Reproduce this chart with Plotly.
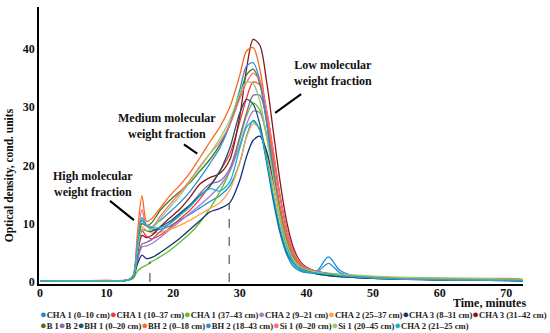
import plotly.graph_objects as go

# ---- data ----
time_min = [0, 10, 13.2, 14.0, 14.6, 15.3, 16.0, 16.8, 18, 19.5, 21, 22.5, 24, 25.5, 27, 28.5,
            30, 31, 32, 33, 34, 35, 36, 37, 38, 39, 40, 41.5, 43.3, 45, 47, 50, 55, 60, 65, 70, 72.5]

cha1_0_10 = [0.1, 0.2, 0.3, 1.0, 5.5, 10.5, 9.6, 9.0, 9.0, 9.6, 10.6, 11.6, 12.7, 13.8, 14.8, 16.5,
             20.5, 25.0, 27.7, 26.0, 20.5, 14.0, 8.5, 4.8, 2.7, 1.9, 1.6, 1.8, 4.3, 2.0, 1.1, 0.7, 0.5, 0.4, 0.35, 0.3, 0.25]
cha1_10_37 = [0.1, 0.2, 0.3, 0.9, 5.0, 8.8, 7.8, 7.4, 8.0, 9.3, 10.8, 12.3, 14.2, 16.5, 19.0, 22.0,
              27.5, 31.5, 34.3, 33.8, 29.5, 22.5, 15.0, 9.2, 5.4, 3.4, 2.4, 1.7, 1.3, 1.1, 0.9, 0.7, 0.5, 0.4, 0.35, 0.3, 0.25]
cha1_37_43 = [0.1, 0.2, 0.3, 0.6, 1.8, 2.5, 2.9, 3.5, 4.3, 5.4, 6.8, 8.3, 10.2, 12.6, 15.5, 19.0,
              24.5, 28.5, 30.7, 29.5, 25.0, 19.0, 12.8, 7.8, 4.7, 3.1, 2.4, 1.8, 1.5, 1.3, 1.1, 0.9, 0.6, 0.45, 0.4, 0.35, 0.3]
cha2_9_21 = [0.1, 0.2, 0.3, 0.8, 3.5, 6.0, 6.2, 6.6, 7.6, 9.0, 10.4, 11.8, 13.2, 14.7, 16.5, 19.0,
             23.5, 27.0, 29.3, 29.0, 25.5, 19.5, 13.2, 8.0, 4.8, 3.1, 2.3, 1.7, 1.3, 1.1, 0.9, 0.7, 0.5, 0.4, 0.35, 0.3, 0.25]
cha2_25_37 = [0.1, 0.25, 0.35, 1.0, 5.5, 9.5, 8.8, 8.4, 8.5, 9.0, 9.7, 10.6, 11.6, 12.6, 13.6, 15.8,
              20.5, 24.8, 27.1, 26.3, 22.0, 16.2, 10.5, 6.2, 3.7, 2.5, 2.0, 1.6, 1.3, 1.1, 1.0, 0.8, 0.6, 0.55, 0.5, 0.5, 0.4]
cha3_8_31 = [0.1, 0.2, 0.3, 0.8, 3.0, 4.6, 4.0, 4.2, 5.0, 6.2, 7.5, 9.0, 10.5, 12.0, 12.6, 13.6,
             17.5, 21.5, 24.3, 25.0, 22.5, 17.5, 12.0, 7.0, 4.2, 2.7, 2.0, 1.4, 1.1, 0.9, 0.8, 0.6, 0.45, 0.35, 0.3, 0.25, 0.2]
cha3_31_42 = [0.1, 0.2, 0.3, 0.9, 4.5, 8.0, 7.6, 8.0, 9.4, 11.0, 12.5, 14.5, 16.8, 17.9, 18.6, 21.0,
              28.5, 36.5, 41.6, 40.6, 34.5, 26.0, 17.5, 10.5, 6.0, 3.6, 2.5, 1.8, 1.4, 1.2, 1.0, 0.8, 0.55, 0.45, 0.4, 0.35, 0.3]
b1 = [0.1, 0.2, 0.3, 1.0, 5.8, 10.0, 9.6, 10.2, 12.2, 14.0, 15.5, 17.0, 19.0, 21.0, 23.5, 27.0,
      32.0, 35.5, 36.5, 34.0, 27.5, 19.5, 12.5, 7.4, 4.4, 2.9, 2.2, 1.7, 1.3, 1.1, 0.9, 0.7, 0.5, 0.4, 0.35, 0.3, 0.25]
b2 = [0.1, 0.2, 0.3, 0.8, 3.8, 6.5, 6.8, 7.3, 8.6, 10.1, 11.6, 13.1, 15.2, 16.8, 17.3, 19.5,
      25.0, 29.0, 32.0, 32.0, 28.0, 21.5, 14.8, 9.0, 5.3, 3.4, 2.4, 1.8, 1.4, 1.2, 1.0, 0.8, 0.55, 0.45, 0.4, 0.35, 0.3]
bh1_0_20 = [0.1, 0.2, 0.3, 1.0, 5.0, 9.0, 8.8, 8.7, 9.4, 10.4, 11.8, 13.2, 14.8, 16.4, 19.0, 23.0,
            29.0, 31.3, 30.5, 27.0, 21.0, 14.5, 9.0, 5.2, 3.2, 2.2, 1.8, 1.4, 1.1, 0.9, 0.8, 0.6, 0.45, 0.35, 0.3, 0.25, 0.2]
bh2_0_18 = [0.1, 0.25, 0.35, 1.2, 8.0, 14.8, 10.4, 10.9, 12.6, 14.8, 16.6, 18.7, 21.3, 24.0, 26.6, 30.0,
            35.5, 39.6, 40.2, 36.5, 29.0, 20.5, 13.0, 7.8, 4.6, 3.0, 2.2, 1.7, 1.4, 1.2, 1.0, 0.8, 0.6, 0.6, 0.6, 0.6, 0.45]
bh2_18_43 = [0.1, 0.2, 0.3, 1.0, 6.0, 11.0, 9.6, 9.5, 10.5, 12.0, 13.6, 15.5, 17.8, 20.3, 23.0, 27.0,
             33.0, 37.0, 37.6, 34.5, 27.5, 19.0, 11.5, 6.5, 3.5, 2.2, 1.7, 1.6, 3.2, 1.6, 1.0, 0.7, 0.5, 0.4, 0.35, 0.3, 0.25]
si1_0_20 = [0.1, 0.2, 0.3, 1.1, 7.0, 12.4, 9.6, 9.4, 11.2, 13.3, 15.3, 17.4, 19.8, 22.0, 24.0, 27.0,
            31.5, 34.2, 35.8, 34.5, 29.5, 22.5, 15.0, 9.2, 5.4, 3.4, 2.4, 1.8, 1.4, 1.2, 1.0, 0.8, 0.55, 0.45, 0.4, 0.35, 0.3]
si1_20_45 = [0.1, 0.2, 0.3, 0.9, 5.0, 9.0, 8.8, 9.0, 10.8, 12.8, 14.8, 17.2, 19.6, 22.0, 24.6, 27.8,
             32.3, 34.3, 34.0, 31.0, 25.0, 18.0, 11.5, 6.8, 4.0, 2.7, 2.1, 1.7, 1.4, 1.3, 1.2, 1.0, 0.8, 0.7, 0.6, 0.5, 0.45]
cha2_21_25 = [0.1, 0.2, 0.3, 1.0, 6.0, 11.0, 9.8, 9.3, 9.3, 10.0, 11.4, 12.9, 14.7, 16.0, 15.6, 17.2,
              23.0, 26.5, 27.5, 26.0, 21.0, 15.0, 9.5, 5.5, 3.3, 2.3, 1.8, 1.5, 1.3, 1.1, 0.9, 0.7, 0.5, 0.4, 0.35, 0.3, 0.25]

series_names = ["CHA 1 (0–10 cm)", "CHA 1 (10–37 cm)", "CHA 1 (37–43 cm)", "CHA 2 (9–21 cm)",
                "CHA 2 (25–37 cm)", "CHA 3 (8–31 cm)", "CHA 3 (31–42 cm)",
                "B 1", "B 2", "BH 1 (0–20 cm)", "BH 2 (0–18 cm)", "BH 2 (18–43 cm)",
                "Si 1 (0–20 cm)", "Si 1 (20–45 cm)", "CHA 2 (21–25 cm)"]
series_values = [cha1_0_10, cha1_10_37, cha1_37_43, cha2_9_21, cha2_25_37, cha3_8_31, cha3_31_42,
                 b1, b2, bh1_0_20, bh2_0_18, bh2_18_43, si1_0_20, si1_20_45, cha2_21_25]
series_colors = ["#1a8ad8", "#f53a3a", "#5cc023", "#a37cc8", "#ffa53f", "#16307a", "#8a1616",
                 "#3d7a1d", "#8566a8", "#14566e", "#f96a1c", "#2c8fdc", "#ff6978", "#93cc69", "#16b4cc"]

x_ticks = [0, 10, 20, 30, 40, 50, 60, 70]
y_ticks = [0, 10, 20, 30, 40]

# dashed reference lines (time, height)
ref_times = [16.5, 28.4]
ref_tops = [3.5, 13.5]

# fraction labels: text, centre (time, od), pointer line (t0, y0, t1, y1)
frac_labels = ["High molecular<br>weight fraction", "Medium molecular<br>weight fraction",
               "Low molecular<br>weight fraction"]
frac_label_pos = [(7.9, 16.8), (19.0, 26.8), (44.0, 35.8)]
frac_pointers = [(10.5, 13.9, 14.1, 10.6), (21.6, 23.6, 23.6, 22.0), (39.2, 32.2, 35.3, 29.0)]

FONT = "Liberation Serif"

fig = go.Figure()
for name, vals, col in zip(series_names, series_values, series_colors):
    fig.add_trace(go.Scatter(x=time_min, y=vals, mode="lines", name=name,
                             line=dict(color=col, width=1.3, shape="spline", smoothing=0.8),
                             showlegend=False))

for t, top in zip(ref_times, ref_tops):
    fig.add_shape(type="line", xref="x", yref="y", x0=t, x1=t, y0=0, y1=top,
                  line=dict(color="#333333", width=1, dash="dash"))

for txt, (tx, ty), (a0, b0, a1, b1_) in zip(frac_labels, frac_label_pos, frac_pointers):
    fig.add_annotation(x=tx, y=ty, xref="x", yref="y", text="<b>" + txt + "</b>", showarrow=False,
                       xanchor="center", yanchor="middle",
                       font=dict(family=FONT, size=12, color="#111111"), align="center")
    fig.add_shape(type="line", xref="x", yref="y", x0=a0, y0=b0, x1=a1, y1=b1_,
                  line=dict(color="black", width=2))

# axis titles
fig.add_annotation(x=-0.062, y=0.393, xref="paper", yref="paper", text="<b>Optical density, cond. units</b>",
                   xanchor="center", yanchor="middle",
                   textangle=-90, showarrow=False, font=dict(family=FONT, size=11.5, color="#111111"))
fig.add_annotation(x=0.93, y=-0.067, xref="paper", yref="paper", text="<b>Time, minutes</b>",
                   xanchor="center", yanchor="middle",
                   showarrow=False, font=dict(family=FONT, size=12, color="#111111"))

# legend rows (built from names & colours)
rows = [range(0, 7), range(7, 15)]
row_y = [-0.107, -0.148]
for idxs, ry in zip(rows, row_y):
    parts = [f"<span style='color:{series_colors[i]};font-size:11px'>●</span>{series_names[i]}" for i in idxs]
    fig.add_annotation(x=-0.003, y=ry, xref="paper", yref="paper", xanchor="left", yanchor="middle",
                       text="<b>" + "".join(parts) + "</b>", showarrow=False,
                       font=dict(family=FONT, size=8.6, color="#222222"))

fig.update_layout(
    width=550, height=333,
    margin=dict(l=39, r=27, t=7, b=49),
    plot_bgcolor="white", paper_bgcolor="white",
    font=dict(family=FONT, color="#111111"),
    showlegend=False,
    xaxis=dict(range=[-0.15, 72.5], tickvals=x_ticks, ticktext=[f"<b>{v}</b>" for v in x_ticks],
               showline=True, linecolor="black", linewidth=2, ticklabelstandoff=-3,
               showgrid=False, zeroline=False, ticks="", tickfont=dict(family=FONT, size=12)),
    yaxis=dict(range=[-0.35, 47.15], tickvals=y_ticks, ticktext=[f"<b>{v}</b>" for v in y_ticks],
               showline=True, linecolor="black", linewidth=1.5,
               showgrid=False, zeroline=False, ticks="", tickfont=dict(family=FONT, size=12)),
)

fig.write_html("out.html", post_script="document.body.style.margin='0';",
               config={"displayModeBar": False})
